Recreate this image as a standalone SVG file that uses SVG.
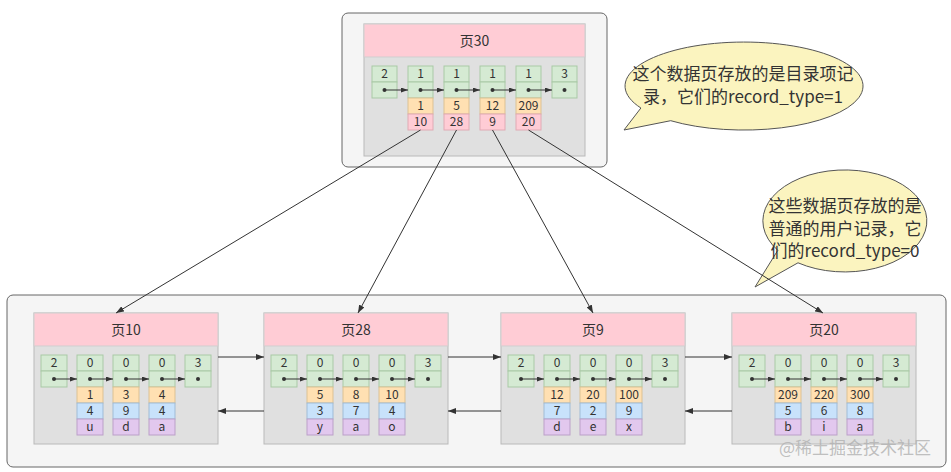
<svg xmlns="http://www.w3.org/2000/svg" xmlns:xlink="http://www.w3.org/1999/xlink" width="951" height="472" viewBox="0 0 951 472">
<style>
text{font-family:"Noto Sans CJK SC","Noto Sans",sans-serif;fill:#333;text-anchor:middle}
.c{font-size:12px}
.h{font-size:14px}
.b{font-size:17px}
.box{fill:#f5f5f5;stroke:#666;stroke-width:1}
.body{fill:#e0e0e0;stroke:#bababa;stroke-width:1}
.hdr{fill:#ffccd5;stroke:#cfcfcf;stroke-width:1}
.g{fill:#d5ead3;stroke:#a9c9a6;stroke-width:1}
.o{fill:#ffe0b2;stroke:#dcc193;stroke-width:1}
.bl{fill:#c8e2fb;stroke:#9fbbd6;stroke-width:1}
.p{fill:#e2c8ee;stroke:#bba0c8;stroke-width:1}
.pk{fill:#ffccd5;stroke:#e0aab4;stroke-width:1}
.dot{fill:#333}
.ia{stroke:#333;stroke-width:1;fill:none;marker-end:url(#ahs)}
.cn{stroke:#333;stroke-width:1;fill:none;marker-end:url(#ah)}
.bub{fill:#fbf4bf;stroke:#555;stroke-width:1}
</style>
<defs>
<marker id="ah" viewBox="0 0 8 6" refX="8" refY="3" markerWidth="8" markerHeight="6" markerUnits="userSpaceOnUse" orient="auto"><path d="M0,0 L8,3 L0,6 Z" fill="#333"/></marker>
<marker id="ahs" viewBox="0 0 7 5" refX="7" refY="2.5" markerWidth="7" markerHeight="5" markerUnits="userSpaceOnUse" orient="auto"><path d="M0,0 L7,2.5 L0,5 Z" fill="#333"/></marker>
<g id="leaf">
<rect class="body" x="0" y="0" width="184" height="131"/>
<rect class="hdr" x="0" y="0" width="184" height="33"/>
<rect class="g" x="7" y="42" width="26" height="16"/><rect class="g" x="7" y="58" width="26" height="16"/>
<rect class="g" x="43" y="42" width="26" height="16"/><rect class="g" x="43" y="58" width="26" height="16"/>
<rect class="g" x="79" y="42" width="26" height="16"/><rect class="g" x="79" y="58" width="26" height="16"/>
<rect class="g" x="115" y="42" width="26" height="16"/><rect class="g" x="115" y="58" width="26" height="16"/>
<rect class="g" x="151" y="42" width="26" height="16"/><rect class="g" x="151" y="58" width="26" height="16"/>
<rect class="o" x="43" y="74" width="26" height="16"/><rect class="bl" x="43" y="90" width="26" height="16"/><rect class="p" x="43" y="106" width="26" height="16"/>
<rect class="o" x="79" y="74" width="26" height="16"/><rect class="bl" x="79" y="90" width="26" height="16"/><rect class="p" x="79" y="106" width="26" height="16"/>
<rect class="o" x="115" y="74" width="26" height="16"/><rect class="bl" x="115" y="90" width="26" height="16"/><rect class="p" x="115" y="106" width="26" height="16"/>
<circle class="dot" cx="20" cy="66" r="2"/><circle class="dot" cx="56" cy="66" r="2"/><circle class="dot" cx="92" cy="66" r="2"/><circle class="dot" cx="128" cy="66" r="2"/><circle class="dot" cx="164" cy="66" r="2"/>
<line class="ia" x1="20" y1="66" x2="43" y2="66"/><line class="ia" x1="56" y1="66" x2="79" y2="66"/><line class="ia" x1="92" y1="66" x2="115" y2="66"/><line class="ia" x1="128" y1="66" x2="151" y2="66"/>
</g>
</defs>

<rect width="951" height="472" fill="#ffffff"/>

<g id="top-container"><rect class="box" x="342" y="13" width="265" height="154" rx="6"/></g>
<g id="leaf-container"><rect class="box" x="7" y="295" width="939" height="172" rx="6"/></g>

<g id="bubble-top">
<path class="bub" d="M640.9,108 L624,130 L670.7,120.7 A119 44 0 1 0 640.9,108 Z"/>
<text class="b" x="743" y="80">这个数据页存放的是目录项记</text>
<text class="b" x="743" y="102.5">录，它们的record_type=1</text>
</g>

<g id="bubble-leaf">
<path class="bub" d="M777.8,250.3 L755,287 L798,262.8 A82 51 0 1 0 777.8,250.3 Z"/>
<text class="b" x="845" y="212">这些数据页存放的是</text>
<text class="b" x="845" y="234.5">普通的用户记录，它</text>
<text class="b" x="845" y="257">们的record_type=0</text>
</g>

<g id="page30" transform="translate(364,24)">
<rect class="body" x="0" y="0" width="221" height="132"/>
<rect class="hdr" x="0" y="0" width="221" height="33"/>
<rect class="g" x="8" y="42" width="25" height="16"/><rect class="g" x="8" y="58" width="25" height="16"/>
<rect class="g" x="44" y="42" width="25" height="16"/><rect class="g" x="44" y="58" width="25" height="16"/>
<rect class="g" x="80" y="42" width="25" height="16"/><rect class="g" x="80" y="58" width="25" height="16"/>
<rect class="g" x="116" y="42" width="25" height="16"/><rect class="g" x="116" y="58" width="25" height="16"/>
<rect class="g" x="152" y="42" width="25" height="16"/><rect class="g" x="152" y="58" width="25" height="16"/>
<rect class="g" x="188" y="42" width="25" height="16"/><rect class="g" x="188" y="58" width="25" height="16"/>
<rect class="o" x="44" y="74" width="25" height="16"/><rect class="pk" x="44" y="90" width="25" height="16"/>
<rect class="o" x="80" y="74" width="25" height="16"/><rect class="pk" x="80" y="90" width="25" height="16"/>
<rect class="o" x="116" y="74" width="25" height="16"/><rect class="pk" x="116" y="90" width="25" height="16"/>
<rect class="o" x="152" y="74" width="25" height="16"/><rect class="pk" x="152" y="90" width="25" height="16"/>
<circle class="dot" cx="20.5" cy="66" r="2"/><circle class="dot" cx="56.5" cy="66" r="2"/><circle class="dot" cx="92.5" cy="66" r="2"/><circle class="dot" cx="128.5" cy="66" r="2"/><circle class="dot" cx="164.5" cy="66" r="2"/><circle class="dot" cx="200.5" cy="66" r="2"/>
<line class="ia" x1="20.5" y1="66" x2="44" y2="66"/><line class="ia" x1="56.5" y1="66" x2="80" y2="66"/><line class="ia" x1="92.5" y1="66" x2="116" y2="66"/><line class="ia" x1="128.5" y1="66" x2="152" y2="66"/><line class="ia" x1="164.5" y1="66" x2="188" y2="66"/>
<text class="h" x="110.5" y="21.5">页30</text>
<text class="c" x="20.5" y="54.3">2</text><text class="c" x="56.5" y="54.3">1</text><text class="c" x="92.5" y="54.3">1</text><text class="c" x="128.5" y="54.3">1</text><text class="c" x="164.5" y="54.3">1</text><text class="c" x="200.5" y="54.3">3</text>
<text class="c" x="56.5" y="86.3">1</text><text class="c" x="92.5" y="86.3">5</text><text class="c" x="128.5" y="86.3">12</text><text class="c" x="164.5" y="86.3">209</text>
<text class="c" x="56.5" y="102.3">10</text><text class="c" x="92.5" y="102.3">28</text><text class="c" x="128.5" y="102.3">9</text><text class="c" x="164.5" y="102.3">20</text>
</g>

<g id="page10" transform="translate(34,313)">
<use xlink:href="#leaf" href="#leaf"/>
<text class="h" x="92" y="21.5">页10</text>
<text class="c" x="20" y="54.3">2</text><text class="c" x="56" y="54.3">0</text><text class="c" x="92" y="54.3">0</text><text class="c" x="128" y="54.3">0</text><text class="c" x="164" y="54.3">3</text>
<text class="c" x="56" y="86.3">1</text><text class="c" x="92" y="86.3">3</text><text class="c" x="128" y="86.3">4</text>
<text class="c" x="56" y="102.3">4</text><text class="c" x="92" y="102.3">9</text><text class="c" x="128" y="102.3">4</text>
<text class="c" x="56" y="118.3">u</text><text class="c" x="92" y="118.3">d</text><text class="c" x="128" y="118.3">a</text>
</g>

<g id="page28" transform="translate(264,313)">
<use xlink:href="#leaf" href="#leaf"/>
<text class="h" x="92" y="21.5">页28</text>
<text class="c" x="20" y="54.3">2</text><text class="c" x="56" y="54.3">0</text><text class="c" x="92" y="54.3">0</text><text class="c" x="128" y="54.3">0</text><text class="c" x="164" y="54.3">3</text>
<text class="c" x="56" y="86.3">5</text><text class="c" x="92" y="86.3">8</text><text class="c" x="128" y="86.3">10</text>
<text class="c" x="56" y="102.3">3</text><text class="c" x="92" y="102.3">7</text><text class="c" x="128" y="102.3">4</text>
<text class="c" x="56" y="118.3">y</text><text class="c" x="92" y="118.3">a</text><text class="c" x="128" y="118.3">o</text>
</g>

<g id="page9" transform="translate(501,313)">
<use xlink:href="#leaf" href="#leaf"/>
<text class="h" x="92" y="21.5">页9</text>
<text class="c" x="20" y="54.3">2</text><text class="c" x="56" y="54.3">0</text><text class="c" x="92" y="54.3">0</text><text class="c" x="128" y="54.3">0</text><text class="c" x="164" y="54.3">3</text>
<text class="c" x="56" y="86.3">12</text><text class="c" x="92" y="86.3">20</text><text class="c" x="128" y="86.3">100</text>
<text class="c" x="56" y="102.3">7</text><text class="c" x="92" y="102.3">2</text><text class="c" x="128" y="102.3">9</text>
<text class="c" x="56" y="118.3">d</text><text class="c" x="92" y="118.3">e</text><text class="c" x="128" y="118.3">x</text>
</g>

<g id="page20" transform="translate(732,313)">
<use xlink:href="#leaf" href="#leaf"/>
<text class="h" x="92" y="21.5">页20</text>
<text class="c" x="20" y="54.3">2</text><text class="c" x="56" y="54.3">0</text><text class="c" x="92" y="54.3">0</text><text class="c" x="128" y="54.3">0</text><text class="c" x="164" y="54.3">3</text>
<text class="c" x="56" y="86.3">209</text><text class="c" x="92" y="86.3">220</text><text class="c" x="128" y="86.3">300</text>
<text class="c" x="56" y="102.3">5</text><text class="c" x="92" y="102.3">6</text><text class="c" x="128" y="102.3">8</text>
<text class="c" x="56" y="118.3">b</text><text class="c" x="92" y="118.3">i</text><text class="c" x="128" y="118.3">a</text>
</g>

<g id="connectors">
<line class="cn" x1="420.5" y1="130" x2="116" y2="313"/>
<line class="cn" x1="456.5" y1="130" x2="358" y2="313"/>
<line class="cn" x1="492.5" y1="130" x2="593" y2="313"/>
<line class="cn" x1="528.5" y1="130" x2="823" y2="313"/>
<line class="cn" x1="218" y1="357" x2="264" y2="357"/>
<line class="cn" x1="448" y1="357" x2="501" y2="357"/>
<line class="cn" x1="685" y1="357" x2="732" y2="357"/>
<line class="cn" x1="264" y1="411" x2="218" y2="411"/>
<line class="cn" x1="501" y1="411" x2="448" y2="411"/>
<line class="cn" x1="732" y1="411" x2="685" y2="411"/>
</g>

<text x="855" y="454" style="font-size:17px;fill:#b0b0b0;fill-opacity:0.8">@稀土掘金技术社区</text>
</svg>
